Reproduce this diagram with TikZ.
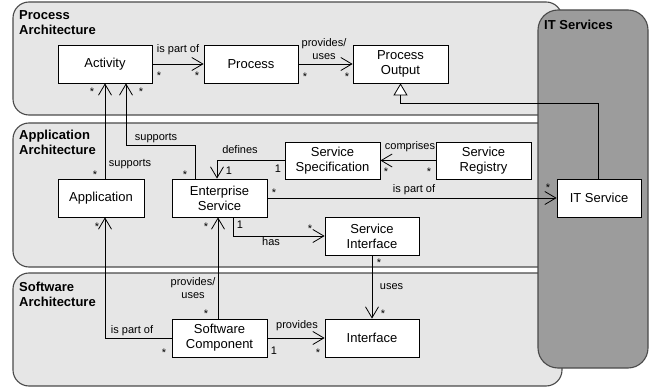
\documentclass[tikz,border=0pt]{standalone}
\usepackage{fontspec}
\setmainfont{Liberation Sans}
\usetikzlibrary{arrows.meta}
\definecolor{panelfill}{HTML}{E6E6E6}
\definecolor{itfill}{HTML}{9C9C9C}
\definecolor{panelline}{HTML}{4A4A4A}
\begin{document}
\begin{tikzpicture}[x=1pt,y=-1pt,
  panel/.style={draw=panelline, fill=panelfill, line width=1.1pt, rounded corners=16pt},
  itpanel/.style={draw=panelline, fill=itfill, line width=1.1pt, rounded corners=20pt},
  cls/.style={draw=black, fill=white, line width=0.8pt, inner sep=0pt, minimum width=95pt, minimum height=38pt, align=center, font=\fontsize{13}{15}\selectfont},
  lbl/.style={font=\fontsize{11}{13}\selectfont, inner sep=0pt, align=center},
  mult/.style={font=\fontsize{11}{13}\selectfont, inner sep=0pt, anchor=base},
  head/.style={font=\fontsize{13}{15}\selectfont\bfseries, inner sep=0pt, align=left, anchor=north west},
  assoc/.style={draw=black, line width=0.8pt, -{Straight Barb[length=11pt,width=13pt,line width=0.8pt]}},
  gen/.style={draw=black, line width=0.8pt, -{Triangle[open,length=12pt,width=14pt,fill=white,line width=0.8pt]}}
]
\useasboundingbox (0,0) rectangle (650,387);
% layer panels
\path[panel] (13,2) rectangle (562,115);
\path[panel] (13,123) rectangle (562,267);
\path[panel] (13,273) rectangle (562,386);
\path[itpanel] (538,10) rectangle (648,368);
% headings
\node[head] (hproc) at (19,10) {Process\\Architecture};
\node[head] (happ) at (19,130) {Application\\Architecture};
\node[head] (hsw) at (19,282) {Software\\Architecture};
\node[head] (hit) at (544,20) {IT Services};
% classes
\node[cls, minimum width=94pt] (act) at (105,64) {Activity};
\node[cls, minimum width=94pt] (proc) at (251,64) {Process};
\node[cls] (po) at (400.5,64) {Process\\Output};
\node[cls, minimum width=86pt] (app) at (101,198) {Application};
\node[cls] (es) at (219.5,198) {Enterprise\\Service};
\node[cls, minimum height=37pt] (ss) at (332.5,160.5) {Service\\Specification};
\node[cls, minimum height=37pt] (sr) at (483.5,160.5) {Service\\Registry};
\node[cls, minimum width=84pt] (its) at (599,198) {IT Service};
\node[cls, minimum width=94pt] (si) at (372,236) {Service\\Interface};
\node[cls] (sc) at (219.5,338) {Software\\Component};
\node[cls, minimum width=94pt] (intf) at (372,338) {Interface};
% connectors
\draw[assoc] (act.east) -- (proc.west);
\draw[assoc] (proc.east) -- (po.west);
\draw[assoc] (act.south |- app.north) -- (act.south);
\draw[assoc] ([xshift=-24.5pt]es.north) -- ++(0,-33) -| ([xshift=21pt]act.south);
\draw[assoc] (ss.west) -| ([xshift=-2.5pt]es.north);
\draw[assoc] (sr.west) -- (ss.east);
\draw[assoc] (es.east) -- (its.west);
\draw[assoc] ([xshift=13.5pt]es.south) |- (si.west);
\draw[assoc] ([xshift=-1.5pt]sc.north) -- ([xshift=-1.5pt]es.south);
\draw[assoc] (sc.west) -| ([xshift=4pt]app.south);
\draw[assoc] (sc.east) -- (intf.west);
\draw[assoc] (si.south) -- (intf.north);
\draw[gen] ([xshift=-1pt]its.north) |- ([yshift=-20pt]po.south) -- (po.south);
% connector labels
\node[lbl, anchor=base] (l1) at (178,53) {is part of};
\node[lbl, text depth=0pt] (l2) at (324,49) {provides/\\uses};
\node[lbl, anchor=base] (l3) at (130,167) {supports};
\node[lbl, anchor=base] (l4) at (156,141) {supports};
\node[lbl, anchor=base] (l5) at (240,154) {defines};
\node[lbl, anchor=base] (l6) at (410,150) {comprises};
\node[lbl, anchor=base] (l7) at (414,193) {is part of};
\node[lbl, anchor=base] (l8) at (271,246) {has};
\node[lbl, text depth=0pt] (l9) at (193,288) {provides/\\uses};
\node[lbl, anchor=base] (l10) at (132,333) {is part of};
\node[lbl, anchor=base] (l11) at (297,328) {provides};
\node[lbl, anchor=base] (l12) at (391.5,289) {uses};
% multiplicities
\node[mult] (m1) at (159,80) {*};
\node[mult] (m2) at (197,80) {*};
\node[mult] (m3) at (305,81) {*};
\node[mult] (m4) at (347,81) {*};
\node[mult] (m5) at (92,96) {*};
\node[mult] (m6) at (141,96) {*};
\node[mult] (m7) at (95,179) {*};
\node[mult] (m8) at (185,179) {*};
\node[mult] (m9) at (278,172.5) {1};
\node[mult] (m10) at (229,175) {1};
\node[mult] (m11) at (386,176) {*};
\node[mult] (m12) at (429,176) {*};
\node[mult] (m13) at (274,197) {*};
\node[mult] (m14) at (548,192) {*};
\node[mult] (m15) at (97,231) {*};
\node[mult] (m16) at (206,231) {*};
\node[mult] (m17) at (240,229) {1};
\node[mult] (m18) at (310,233) {*};
\node[mult] (m19) at (379,266) {*};
\node[mult] (m20) at (206,317) {*};
\node[mult] (m21) at (164,356) {*};
\node[mult] (m22) at (274,354) {1};
\node[mult] (m23) at (318,356) {*};
\node[mult] (m24) at (383,317) {*};
\end{tikzpicture}
\end{document}
